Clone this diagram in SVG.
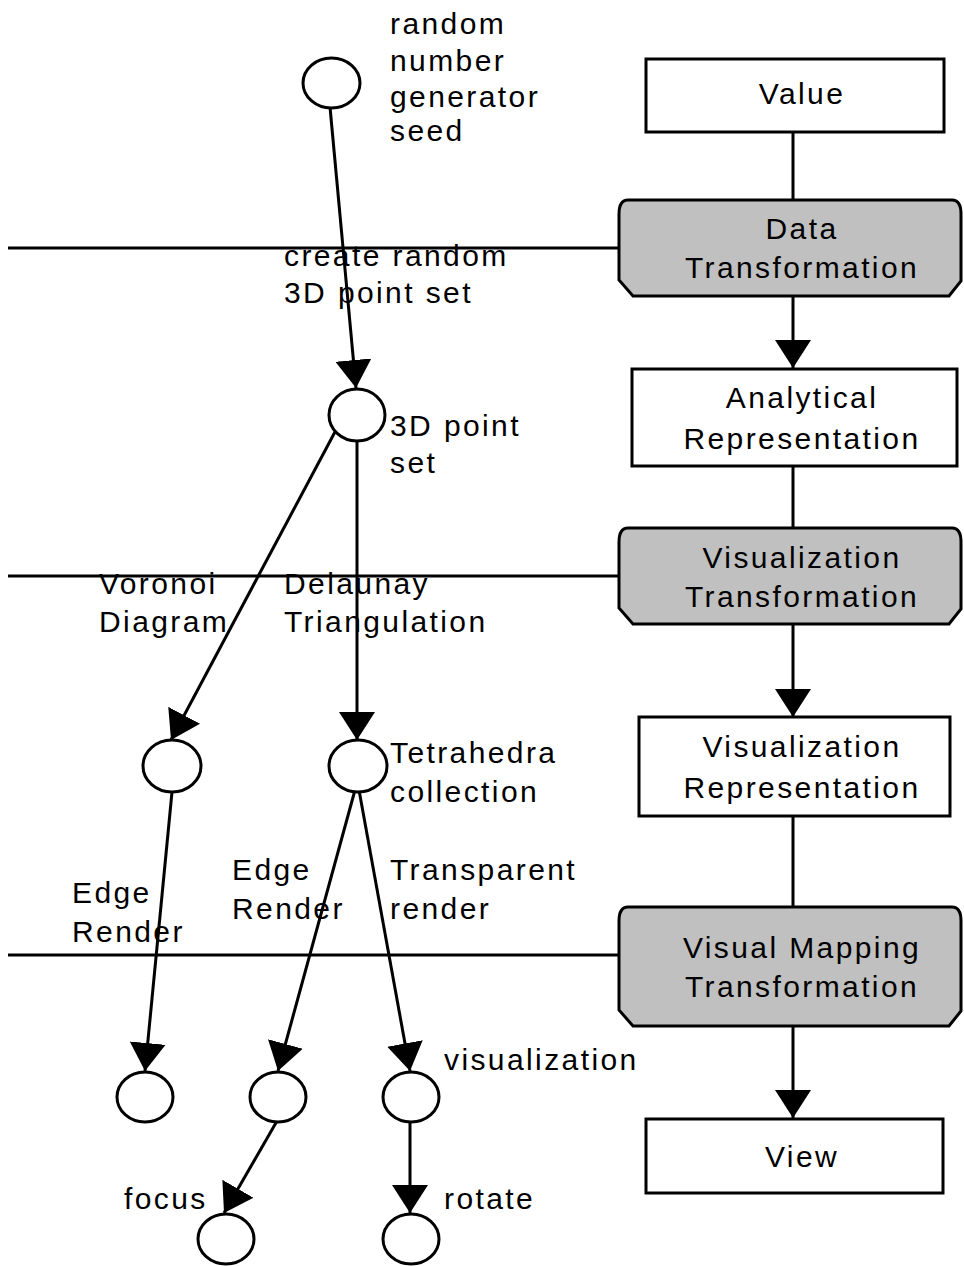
<svg xmlns="http://www.w3.org/2000/svg" width="964" height="1266" viewBox="0 0 964 1266">
  <style>
    text { font-family: "Liberation Sans", Arial, sans-serif; font-size: 30px; letter-spacing: 2.4px; fill: #000; }
    .c { text-anchor: middle; }
    .box { fill: #fff; stroke: #000; stroke-width: 3; }
    .stage { fill: #c0c0c0; stroke: #000; stroke-width: 3; }
    .node { fill: #fff; stroke: #000; stroke-width: 3; }
    .edge { fill: none; stroke: #000; stroke-width: 3; }
    .arrow { marker-end: url(#head); }
  </style>
  <defs>
    <marker id="head" markerUnits="userSpaceOnUse" viewBox="0 0 28 36" refX="28" refY="18" markerWidth="28" markerHeight="36" orient="auto">
      <path d="M0,0 L28,18 L0,36 Z" fill="#000"/>
    </marker>
  </defs>

  <!-- connectors -->
  <g id="connectors">
    <!-- pipeline column -->
    <line class="edge" x1="793" y1="132" x2="793" y2="200"/>
    <line class="edge arrow" x1="793" y1="296" x2="793" y2="368"/>
    <line class="edge" x1="793" y1="466" x2="793" y2="528"/>
    <line class="edge arrow" x1="793" y1="624" x2="793" y2="717"/>
    <line class="edge" x1="793" y1="816" x2="793" y2="907"/>
    <line class="edge arrow" x1="793" y1="1026" x2="793" y2="1118"/>
    <!-- stage boundaries -->
    <line class="edge" x1="8" y1="248" x2="619" y2="248"/>
    <line class="edge" x1="8" y1="576" x2="619" y2="576"/>
    <line class="edge" x1="8" y1="955" x2="619" y2="955"/>
    <!-- example graph -->
    <line class="edge arrow" x1="330" y1="107" x2="356" y2="388"/>
    <line class="edge arrow" x1="336" y1="430" x2="171" y2="740"/>
    <line class="edge arrow" x1="357" y1="441" x2="357" y2="740"/>
    <line class="edge arrow" x1="172" y1="792" x2="145" y2="1071"/>
    <line class="edge arrow" x1="355" y1="790" x2="278" y2="1071"/>
    <line class="edge arrow" x1="359" y1="790" x2="410" y2="1071"/>
    <line class="edge arrow" x1="277" y1="1121" x2="224" y2="1213"/>
    <line class="edge arrow" x1="410" y1="1123" x2="410" y2="1213"/>
  </g>

  <!-- pipeline stages -->
  <g id="value">
    <rect class="box" x="646" y="59" width="298" height="73"/>
    <text class="c" x="802" y="104">Value</text>
  </g>
  <g id="data-transformation">
    <path class="stage" d="M628,200 H952 Q961,200 961,214 V281 L949,296 H633 L619,280 V214 Q619,200 628,200 Z"/>
    <text class="c" x="802" y="239">Data</text>
    <text class="c" x="802" y="278">Transformation</text>
  </g>
  <g id="analytical-representation">
    <rect class="box" x="632" y="369" width="325" height="97"/>
    <text class="c" x="802" y="408">Analytical</text>
    <text class="c" x="802" y="449">Representation</text>
  </g>
  <g id="visualization-transformation">
    <path class="stage" d="M628,528 H952 Q961,528 961,542 V609 L949,624 H633 L619,608 V542 Q619,528 628,528 Z"/>
    <text class="c" x="802" y="568">Visualization</text>
    <text class="c" x="802" y="607">Transformation</text>
  </g>
  <g id="visualization-representation">
    <rect class="box" x="639" y="717" width="311" height="99"/>
    <text class="c" x="802" y="757">Visualization</text>
    <text class="c" x="802" y="798">Representation</text>
  </g>
  <g id="visual-mapping-transformation">
    <path class="stage" d="M628,907 H952 Q961,907 961,921 V1011 L949,1026 H633 L619,1010 V921 Q619,907 628,907 Z"/>
    <text class="c" x="802" y="958">Visual Mapping</text>
    <text class="c" x="802" y="997">Transformation</text>
  </g>
  <g id="view">
    <rect class="box" x="646" y="1119" width="297" height="74"/>
    <text class="c" x="802" y="1167">View</text>
  </g>

  <!-- example graph nodes -->
  <g id="seed">
    <ellipse class="node" cx="331.5" cy="83" rx="28.5" ry="25"/>
    <text x="390" y="34">random</text>
    <text x="390" y="71">number</text>
    <text x="390" y="107">generator</text>
    <text x="390" y="141">seed</text>
  </g>
  <g id="point-set">
    <ellipse class="node" cx="357" cy="415" rx="28" ry="26"/>
    <text x="390" y="436">3D point</text>
    <text x="390" y="473">set</text>
  </g>
  <g id="voronoi">
    <ellipse class="node" cx="172" cy="766" rx="29" ry="26"/>
  </g>
  <g id="tetrahedra">
    <ellipse class="node" cx="358" cy="766" rx="29" ry="26"/>
    <text x="390" y="763">Tetrahedra</text>
    <text x="390" y="802">collection</text>
  </g>
  <g id="voronoi-edges">
    <ellipse class="node" cx="145" cy="1097" rx="28" ry="25"/>
  </g>
  <g id="tetra-edges">
    <ellipse class="node" cx="278" cy="1097" rx="28" ry="25"/>
  </g>
  <g id="visualization">
    <ellipse class="node" cx="411" cy="1097" rx="28" ry="25"/>
    <text x="444" y="1070">visualization</text>
  </g>
  <g id="focus">
    <ellipse class="node" cx="226" cy="1239" rx="28" ry="25"/>
    <text x="124" y="1209">focus</text>
  </g>
  <g id="rotate">
    <ellipse class="node" cx="411" cy="1239" rx="28" ry="25"/>
    <text x="444" y="1209">rotate</text>
  </g>

  <!-- operation labels -->
  <g id="labels">
    <text x="284" y="266">create random</text>
    <text x="284" y="303">3D point set</text>
    <text x="99" y="594">Voronoi</text>
    <text x="99" y="632">Diagram</text>
    <text x="284" y="594">Delaunay</text>
    <text x="284" y="632">Triangulation</text>
    <text x="72" y="903">Edge</text>
    <text x="72" y="942">Render</text>
    <text x="232" y="880">Edge</text>
    <text x="232" y="919">Render</text>
    <text x="390" y="880">Transparent</text>
    <text x="390" y="919">render</text>
  </g>
</svg>
